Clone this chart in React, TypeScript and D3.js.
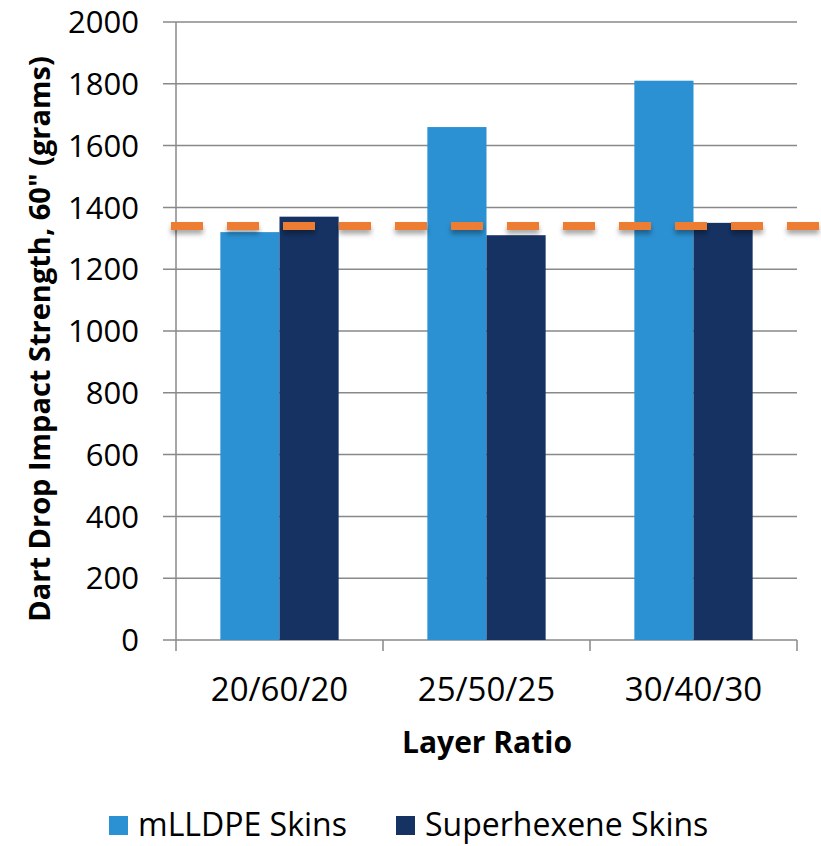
import React from "react";
import * as d3 from "d3";

const categories = ["20/60/20", "25/50/25", "30/40/30"];
const seriesNames = ["mLLDPE Skins", "Superhexene Skins"];
const mLLDPE = [1320, 1660, 1810];
const superhexene = [1370, 1310, 1350];
const referenceLine = 1340;
const yTicks = [0, 200, 400, 600, 800, 1000, 1200, 1400, 1600, 1800, 2000];
const colors = ["#2B91D3", "#153263"];

const W = 821;
const H = 846;
const left = 176;
const right = 797;
const top = 22;
const bottom = 640;
const font = "'Open Sans', 'Noto Sans', sans-serif";

export default function App() {
  const x = d3.scaleBand<string>().domain(categories).range([left, right]).paddingInner(0).paddingOuter(0);
  const y = d3.scaleLinear().domain([0, 2000]).range([bottom, top]);
  const gapRatio = 1.5; // Excel gap width 150%
  const bw = x.bandwidth() / (2 + gapRatio);
  const series = [mLLDPE, superhexene];
  const edges = [...categories.map((c) => x(c) as number), right];
  const ry = y(referenceLine);

  return (
    <svg width={W} height={H} style={{ display: "block", position: "absolute", left: 0, top: 0 }}>
      <defs>
        <filter id="sh" filterUnits="userSpaceOnUse" x={0} y={ry - 20} width={W} height={40}>
          <feDropShadow dx="0" dy="4" stdDeviation="2.5" floodColor="#000" floodOpacity="0.35" />
        </filter>
      </defs>
      <rect width={W} height={H} fill="#fff" />
      {yTicks.map((t) => (
        <g key={t}>
          <line x1={left - 13} x2={right} y1={y(t)} y2={y(t)} stroke="#898989" strokeWidth={1.5} />
          <text x={139} y={y(t)} dy="0.36em" textAnchor="end" fontFamily={font} fontSize={31} fill="#000">
            {t}
          </text>
        </g>
      ))}
      <line x1={left} x2={left} y1={top} y2={bottom} stroke="#898989" strokeWidth={1.5} />
      {edges.map((e, i) => (
        <line key={i} x1={e} x2={e} y1={bottom} y2={bottom + 11} stroke="#898989" strokeWidth={1.5} />
      ))}
      {categories.map((c, i) => {
        const x0 = (x(c) as number) + x.bandwidth() / 2 - bw;
        return (
          <g key={c}>
            {series.map((s, j) => (
              <rect
                key={j}
                x={x0 + j * bw}
                y={y(s[i])}
                width={bw}
                height={bottom - y(s[i])}
                fill={colors[j]}
              />
            ))}
            <text x={(x(c) as number) + x.bandwidth() / 2} y={701} textAnchor="middle" fontFamily={font} fontSize={33} fill="#000">
              {c}
            </text>
          </g>
        );
      })}
      <line
        x1={171}
        x2={W}
        y1={ry}
        y2={ry}
        stroke="#ED7D31"
        strokeWidth={8}
        strokeDasharray="32 24"
        filter="url(#sh)"
      />
      <text x={487} y={753} textAnchor="middle" fontFamily={font} fontSize={30} fontWeight="bold" fill="#000">
        Layer Ratio
      </text>
      <text
        transform={`translate(50, ${(top + bottom) / 2 + 8}) rotate(-90)`}
        textAnchor="middle"
        fontFamily={font}
        fontSize={29}
        fontWeight="bold"
        fill="#000"
      >
        Dart Drop Impact Strength, 60" (grams)
      </text>
      {seriesNames.map((n, j) => {
        const lx = j === 0 ? 109 : 396;
        return (
          <g key={n}>
            <rect x={lx} y={816} width={19} height={19} fill={colors[j]} />
            <text x={lx + 29} y={836} fontFamily={font} fontSize={32} fill="#000">
              {n}
            </text>
          </g>
        );
      })}
    </svg>
  );
}
